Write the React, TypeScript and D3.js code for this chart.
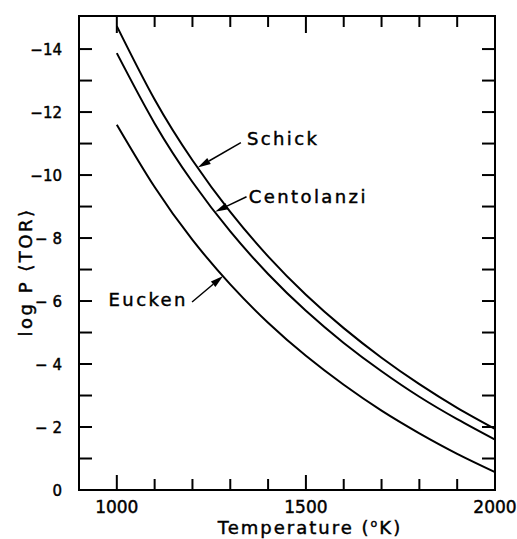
import React from "react";
import * as d3 from "d3";

// Vapour pressure curves, log P (torr) vs. temperature (°K)
const temps = [1000, 1100, 1200, 1300, 1400, 1500, 1600, 1700, 1800, 1900, 2000];
const schick = [-14.73, -12.4, -10.47, -8.83, -7.42, -6.2, -5.14, -4.2, -3.36, -2.61, -1.94];
const centolanzi = [-13.87, -11.64, -9.78, -8.21, -6.86, -5.69, -4.67, -3.77, -2.96, -2.25, -1.6];
const eucken = [-11.6, -9.62, -7.94, -6.53, -5.31, -4.26, -3.34, -2.52, -1.8, -1.15, -0.57];

const yTickValues = [0, -2, -4, -6, -8, -10, -12, -14];
const yTickLabels = ["0", "\u2212 2", "\u2212 4", "\u2212 6", "\u2212 8", "\u221210", "\u221212", "\u221214"];
const xTickValues = [1000, 1500, 2000];
const xTickLabels = ["1000", "1500", "2000"];

// Label callouts: arrow tip temperature on the curve, arrow tail and text anchor in data units
const callouts = [
  { name: "Schick", series: schick, tipT: 1214, tailT: 1328, tailV: -11.03, textT: 1344, textV: -10.95, anchor: "start" },
  { name: "Centolanzi", series: centolanzi, tipT: 1260, tailT: 1343, tailV: -9.31, textT: 1349, textV: -9.11, anchor: "start" },
  { name: "Eucken", series: eucken, tipT: 1281, tailT: 1199, tailV: -5.97, textT: 1188, textV: -5.84, anchor: "end" },
];

const W = 517;
const H = 539;
const FONT = "DejaVu Sans, Verdana, sans-serif";
const INK = { fill: "#000", stroke: "#000", strokeWidth: 0.45 };

export default function App() {
  const x = d3.scaleLinear().domain([900, 2000]).range([79, 495]);
  const y = d3.scaleLinear().domain([0, -15.05]).range([490, 16]);

  const line = d3
    .line<number>()
    .x((_, i) => x(temps[i]))
    .y((d) => y(d))
    .curve(d3.curveNatural);

  const valueAt = (series: number[], t: number) => {
    const i = Math.min(temps.length - 2, Math.max(0, Math.floor((t - temps[0]) / 100)));
    const f = (t - temps[i]) / (temps[i + 1] - temps[i]);
    return series[i] + (series[i + 1] - series[i]) * f;
  };

  const x0 = x.range()[0];
  const x1 = x.range()[1];
  const yb = y(0);
  const yt = y(-15.05);

  const minorY = d3.range(-1, -15, -1);
  const minorX = d3.range(1000, 2000, 100);

  return (
    <svg width={W} height={H} style={{ display: "block", position: "absolute", left: 0, top: 0, background: "#fff" }}>
      <rect x={0} y={0} width={W} height={H} fill="#fff" />
      {/* frame */}
      <rect x={x0} y={yt} width={x1 - x0} height={yb - yt} fill="none" stroke="#000" strokeWidth={2} />

      {/* left and right ticks, every unit */}
      {minorY.map((v) => (
        <g key={"yt" + v}>
          <line x1={x0} x2={x0 + 13} y1={y(v)} y2={y(v)} stroke="#000" strokeWidth={2} />
          <line x1={x1} x2={x1 - 13} y1={y(v)} y2={y(v)} stroke="#000" strokeWidth={2} />
        </g>
      ))}

      {/* bottom and top ticks, every 100 °K */}
      {minorX.map((t) => {
        const major = t % 500 === 0;
        return (
          <g key={"xt" + t}>
            <line x1={x(t)} x2={x(t)} y1={yb} y2={yb - (major ? 15 : 11)} stroke="#000" strokeWidth={2} />
            <line x1={x(t)} x2={x(t)} y1={yt} y2={yt + (major ? 17 : 11)} stroke="#000" strokeWidth={2} />
          </g>
        );
      })}

      {/* y tick labels */}
      {yTickValues.map((v, i) => (
        <text key={"yl" + v} x={62} y={y(v) + 5.5} textAnchor="end" fontFamily={FONT} fontSize={15} {...INK}>
          {yTickLabels[i]}
        </text>
      ))}

      {/* x tick labels */}
      {xTickValues.map((t, i) => (
        <text key={"xl" + t} x={x(t)} y={513} textAnchor="middle" fontFamily={FONT} fontSize={17} {...INK}>
          {xTickLabels[i]}
        </text>
      ))}

      {/* axis titles */}
      <text x={310} y={534} textAnchor="middle" fontFamily={FONT} fontSize={18} letterSpacing={2} {...INK}>
        Temperature (
        <tspan fontSize={11} dy={-7}>o</tspan>
        <tspan dy={7}>K)</tspan>
      </text>
      <text
        transform="translate(32,272) rotate(-90)"
        textAnchor="middle"
        fontFamily={FONT}
        fontSize={18}
        letterSpacing={2.5}
        {...INK}
      >
        log P {"\u27E8"}TOR{"\u27E9"}
      </text>

      {/* curves */}
      {[schick, centolanzi, eucken].map((s, i) => (
        <path key={"c" + i} d={line(s) || ""} fill="none" stroke="#000" strokeWidth={2} />
      ))}

      {/* callouts */}
      {callouts.map((c) => {
        const tx = x(c.tipT);
        const ty = y(valueAt(c.series, c.tipT));
        const sx = x(c.tailT);
        const sy = y(c.tailV);
        const ang = Math.atan2(sy - ty, sx - tx);
        const len = 13;
        const half = 3.5;
        const bx = tx + Math.cos(ang) * len;
        const by = ty + Math.sin(ang) * len;
        const px = -Math.sin(ang) * half;
        const py = Math.cos(ang) * half;
        return (
          <g key={c.name}>
            <line x1={sx} y1={sy} x2={bx} y2={by} stroke="#000" strokeWidth={1.5} />
            <polygon points={`${tx},${ty} ${bx + px},${by + py} ${bx - px},${by - py}`} fill="#000" />
            <text
              x={x(c.textT)}
              y={y(c.textV)}
              textAnchor={c.anchor}
              fontFamily={FONT}
              fontSize={18}
              letterSpacing={2.4}
              {...INK}
            >
              {c.name}
            </text>
          </g>
        );
      })}
    </svg>
  );
}
